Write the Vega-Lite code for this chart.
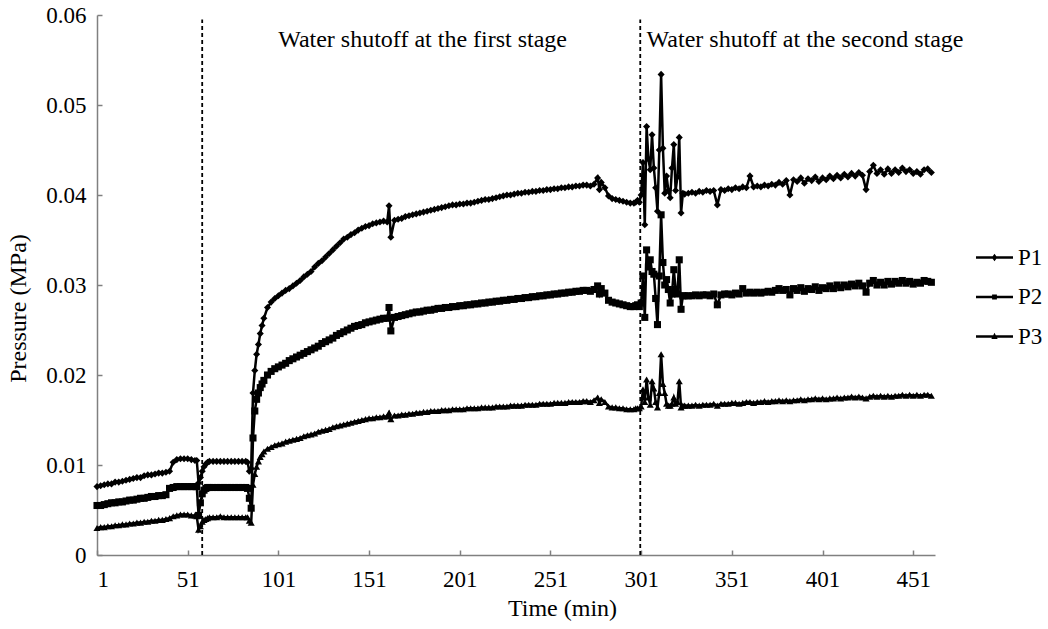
{
"$schema": "https://vega.github.io/schema/vega-lite/v6.json",
"width": 838,
"height": 540,
"autosize": {"type": "none"},
"padding": {"left": 97, "top": 15, "right": 113, "bottom": 74},
"background": "white",
"config": {"font": "Liberation Serif", "view": {"stroke": null}},
"datasets": {
"main": [
{"t":1,"P1":0.0076,"P2":0.0055,"P3":0.0030},
{"t":3,"P1":0.0077,"P2":0.0055,"P3":0.0031},
{"t":5,"P1":0.0078,"P2":0.0056,"P3":0.0031},
{"t":7,"P1":0.0079,"P2":0.0057,"P3":0.0032},
{"t":9,"P1":0.0079,"P2":0.0058,"P3":0.0032},
{"t":11,"P1":0.0081,"P2":0.0058,"P3":0.0033},
{"t":13,"P1":0.0081,"P2":0.0059,"P3":0.0033},
{"t":15,"P1":0.0082,"P2":0.0059,"P3":0.0034},
{"t":17,"P1":0.0083,"P2":0.0060,"P3":0.0034},
{"t":19,"P1":0.0084,"P2":0.0061,"P3":0.0035},
{"t":21,"P1":0.0085,"P2":0.0061,"P3":0.0035},
{"t":23,"P1":0.0086,"P2":0.0062,"P3":0.0036},
{"t":25,"P1":0.0086,"P2":0.0063,"P3":0.0036},
{"t":27,"P1":0.0088,"P2":0.0063,"P3":0.0037},
{"t":29,"P1":0.0089,"P2":0.0064,"P3":0.0037},
{"t":31,"P1":0.0089,"P2":0.0065,"P3":0.0038},
{"t":33,"P1":0.0090,"P2":0.0065,"P3":0.0038},
{"t":35,"P1":0.0091,"P2":0.0066,"P3":0.0039},
{"t":37,"P1":0.0091,"P2":0.0066,"P3":0.0039},
{"t":39,"P1":0.0092,"P2":0.0067,"P3":0.0040},
{"t":41,"P1":0.0093,"P2":0.0074,"P3":0.0041},
{"t":43,"P1":0.0103,"P2":0.0075,"P3":0.0043},
{"t":45,"P1":0.0106,"P2":0.0076,"P3":0.0044},
{"t":47,"P1":0.0107,"P2":0.0076,"P3":0.0045},
{"t":49,"P1":0.0107,"P2":0.0076,"P3":0.0045},
{"t":51,"P1":0.0107,"P2":0.0076,"P3":0.0045},
{"t":53,"P1":0.0106,"P2":0.0076,"P3":0.0044},
{"t":55,"P1":0.0105,"P2":0.0076,"P3":0.0044},
{"t":56,"P1":0.0105,"P2":0.0076,"P3":0.0043},
{"t":57,"P1":0.0080,"P2":0.0044,"P3":0.0028},
{"t":58,"P1":0.0086,"P2":0.0058,"P3":0.0032},
{"t":59,"P1":0.0093,"P2":0.0068,"P3":0.0037},
{"t":60,"P1":0.0098,"P2":0.0072,"P3":0.0039},
{"t":61,"P1":0.0101,"P2":0.0074,"P3":0.0040},
{"t":62,"P1":0.0103,"P2":0.0075,"P3":0.0041},
{"t":63,"P1":0.0104,"P2":0.0075,"P3":0.0042},
{"t":65,"P1":0.0104,"P2":0.0075,"P3":0.0042},
{"t":67,"P1":0.0104,"P2":0.0075,"P3":0.0042},
{"t":69,"P1":0.0104,"P2":0.0075,"P3":0.0043},
{"t":71,"P1":0.0104,"P2":0.0075,"P3":0.0042},
{"t":73,"P1":0.0104,"P2":0.0075,"P3":0.0042},
{"t":75,"P1":0.0104,"P2":0.0075,"P3":0.0042},
{"t":77,"P1":0.0104,"P2":0.0075,"P3":0.0042},
{"t":79,"P1":0.0104,"P2":0.0075,"P3":0.0042},
{"t":81,"P1":0.0104,"P2":0.0075,"P3":0.0042},
{"t":83,"P1":0.0104,"P2":0.0075,"P3":0.0042},
{"t":84,"P1":0.0103,"P2":0.0074,"P3":0.0042},
{"t":85,"P1":0.0093,"P2":0.0063,"P3":0.0038},
{"t":86,"P1":0.0096,"P2":0.0052,"P3":0.0036},
{"t":87,"P1":0.0180,"P2":0.0130,"P3":0.0078},
{"t":88,"P1":0.0205,"P2":0.0160,"P3":0.0090},
{"t":89,"P1":0.0223,"P2":0.0173,"P3":0.0098},
{"t":90,"P1":0.0234,"P2":0.0180,"P3":0.0104},
{"t":91,"P1":0.0246,"P2":0.0186,"P3":0.0109},
{"t":92,"P1":0.0255,"P2":0.0190,"P3":0.0112},
{"t":93,"P1":0.0263,"P2":0.0194,"P3":0.0115},
{"t":95,"P1":0.0275,"P2":0.0200,"P3":0.0118},
{"t":97,"P1":0.0281,"P2":0.0204,"P3":0.0120},
{"t":99,"P1":0.0285,"P2":0.0207,"P3":0.0122},
{"t":101,"P1":0.0288,"P2":0.0209,"P3":0.0123},
{"t":103,"P1":0.0291,"P2":0.0211,"P3":0.0124},
{"t":105,"P1":0.0294,"P2":0.0213,"P3":0.0126},
{"t":107,"P1":0.0296,"P2":0.0216,"P3":0.0127},
{"t":109,"P1":0.0299,"P2":0.0218,"P3":0.0128},
{"t":111,"P1":0.0302,"P2":0.0220,"P3":0.0129},
{"t":113,"P1":0.0305,"P2":0.0222,"P3":0.0130},
{"t":115,"P1":0.0309,"P2":0.0224,"P3":0.0132},
{"t":117,"P1":0.0312,"P2":0.0226,"P3":0.0133},
{"t":119,"P1":0.0315,"P2":0.0228,"P3":0.0134},
{"t":121,"P1":0.0320,"P2":0.0230,"P3":0.0135},
{"t":123,"P1":0.0324,"P2":0.0232,"P3":0.0137},
{"t":125,"P1":0.0327,"P2":0.0235,"P3":0.0138},
{"t":127,"P1":0.0331,"P2":0.0237,"P3":0.0139},
{"t":129,"P1":0.0335,"P2":0.0239,"P3":0.0140},
{"t":131,"P1":0.0339,"P2":0.0241,"P3":0.0142},
{"t":133,"P1":0.0343,"P2":0.0244,"P3":0.0143},
{"t":135,"P1":0.0347,"P2":0.0246,"P3":0.0144},
{"t":137,"P1":0.0351,"P2":0.0248,"P3":0.0145},
{"t":139,"P1":0.0353,"P2":0.0250,"P3":0.0146},
{"t":141,"P1":0.0356,"P2":0.0252,"P3":0.0147},
{"t":143,"P1":0.0358,"P2":0.0254,"P3":0.0148},
{"t":145,"P1":0.0361,"P2":0.0255,"P3":0.0149},
{"t":147,"P1":0.0363,"P2":0.0256,"P3":0.0150},
{"t":149,"P1":0.0365,"P2":0.0258,"P3":0.0151},
{"t":151,"P1":0.0366,"P2":0.0259,"P3":0.0152},
{"t":153,"P1":0.0368,"P2":0.0260,"P3":0.0152},
{"t":155,"P1":0.0369,"P2":0.0261,"P3":0.0153},
{"t":157,"P1":0.0370,"P2":0.0262,"P3":0.0153},
{"t":159,"P1":0.0371,"P2":0.0263,"P3":0.0154},
{"t":161,"P1":0.0370,"P2":0.0263,"P3":0.0154},
{"t":162,"P1":0.0388,"P2":0.0275,"P3":0.0158},
{"t":163,"P1":0.0353,"P2":0.0249,"P3":0.0151},
{"t":165,"P1":0.0372,"P2":0.0264,"P3":0.0155},
{"t":167,"P1":0.0373,"P2":0.0265,"P3":0.0155},
{"t":169,"P1":0.0374,"P2":0.0266,"P3":0.0156},
{"t":171,"P1":0.0376,"P2":0.0267,"P3":0.0156},
{"t":173,"P1":0.0377,"P2":0.0268,"P3":0.0157},
{"t":175,"P1":0.0378,"P2":0.0269,"P3":0.0157},
{"t":177,"P1":0.0379,"P2":0.0270,"P3":0.0158},
{"t":179,"P1":0.0380,"P2":0.0270,"P3":0.0158},
{"t":181,"P1":0.0381,"P2":0.0271,"P3":0.0159},
{"t":183,"P1":0.0382,"P2":0.0272,"P3":0.0159},
{"t":185,"P1":0.0383,"P2":0.0272,"P3":0.0160},
{"t":187,"P1":0.0384,"P2":0.0273,"P3":0.0160},
{"t":189,"P1":0.0385,"P2":0.0274,"P3":0.0160},
{"t":191,"P1":0.0386,"P2":0.0274,"P3":0.0161},
{"t":193,"P1":0.0387,"P2":0.0275,"P3":0.0161},
{"t":195,"P1":0.0388,"P2":0.0275,"P3":0.0161},
{"t":197,"P1":0.0389,"P2":0.0276,"P3":0.0162},
{"t":199,"P1":0.0389,"P2":0.0276,"P3":0.0162},
{"t":201,"P1":0.0390,"P2":0.0277,"P3":0.0162},
{"t":203,"P1":0.0390,"P2":0.0277,"P3":0.0162},
{"t":205,"P1":0.0391,"P2":0.0278,"P3":0.0163},
{"t":207,"P1":0.0391,"P2":0.0278,"P3":0.0163},
{"t":209,"P1":0.0392,"P2":0.0279,"P3":0.0163},
{"t":211,"P1":0.0393,"P2":0.0279,"P3":0.0163},
{"t":213,"P1":0.0394,"P2":0.0280,"P3":0.0164},
{"t":215,"P1":0.0395,"P2":0.0280,"P3":0.0164},
{"t":217,"P1":0.0395,"P2":0.0281,"P3":0.0164},
{"t":219,"P1":0.0396,"P2":0.0281,"P3":0.0164},
{"t":221,"P1":0.0397,"P2":0.0282,"P3":0.0165},
{"t":223,"P1":0.0398,"P2":0.0282,"P3":0.0165},
{"t":225,"P1":0.0399,"P2":0.0283,"P3":0.0165},
{"t":227,"P1":0.0400,"P2":0.0283,"P3":0.0165},
{"t":229,"P1":0.0400,"P2":0.0284,"P3":0.0166},
{"t":231,"P1":0.0401,"P2":0.0284,"P3":0.0166},
{"t":233,"P1":0.0402,"P2":0.0285,"P3":0.0166},
{"t":235,"P1":0.0402,"P2":0.0285,"P3":0.0166},
{"t":237,"P1":0.0403,"P2":0.0286,"P3":0.0167},
{"t":239,"P1":0.0403,"P2":0.0286,"P3":0.0167},
{"t":241,"P1":0.0404,"P2":0.0287,"P3":0.0167},
{"t":243,"P1":0.0404,"P2":0.0287,"P3":0.0167},
{"t":245,"P1":0.0405,"P2":0.0288,"P3":0.0168},
{"t":247,"P1":0.0405,"P2":0.0288,"P3":0.0168},
{"t":249,"P1":0.0406,"P2":0.0289,"P3":0.0168},
{"t":251,"P1":0.0406,"P2":0.0289,"P3":0.0168},
{"t":253,"P1":0.0407,"P2":0.0290,"P3":0.0169},
{"t":255,"P1":0.0407,"P2":0.0290,"P3":0.0169},
{"t":257,"P1":0.0408,"P2":0.0291,"P3":0.0169},
{"t":259,"P1":0.0408,"P2":0.0291,"P3":0.0169},
{"t":261,"P1":0.0409,"P2":0.0292,"P3":0.0170},
{"t":263,"P1":0.0409,"P2":0.0292,"P3":0.0170},
{"t":265,"P1":0.0410,"P2":0.0293,"P3":0.0170},
{"t":267,"P1":0.0410,"P2":0.0293,"P3":0.0170},
{"t":269,"P1":0.0411,"P2":0.0294,"P3":0.0171},
{"t":271,"P1":0.0411,"P2":0.0294,"P3":0.0171},
{"t":273,"P1":0.0410,"P2":0.0293,"P3":0.0170},
{"t":275,"P1":0.0412,"P2":0.0295,"P3":0.0172},
{"t":277,"P1":0.0419,"P2":0.0299,"P3":0.0175},
{"t":278,"P1":0.0406,"P2":0.0290,"P3":0.0169},
{"t":279,"P1":0.0414,"P2":0.0296,"P3":0.0173},
{"t":281,"P1":0.0408,"P2":0.0291,"P3":0.0170},
{"t":283,"P1":0.0399,"P2":0.0283,"P3":0.0165},
{"t":285,"P1":0.0396,"P2":0.0281,"P3":0.0164},
{"t":287,"P1":0.0395,"P2":0.0280,"P3":0.0164},
{"t":289,"P1":0.0394,"P2":0.0279,"P3":0.0163},
{"t":291,"P1":0.0393,"P2":0.0278,"P3":0.0163},
{"t":293,"P1":0.0392,"P2":0.0277,"P3":0.0162},
{"t":295,"P1":0.0391,"P2":0.0276,"P3":0.0162},
{"t":297,"P1":0.0391,"P2":0.0276,"P3":0.0162},
{"t":298,"P1":0.0392,"P2":0.0277,"P3":0.0163},
{"t":299,"P1":0.0394,"P2":0.0278,"P3":0.0163},
{"t":300,"P1":0.0392,"P2":0.0276,"P3":0.0163},
{"t":301,"P1":0.0400,"P2":0.0280,"P3":0.0165},
{"t":302,"P1":0.0436,"P2":0.0310,"P3":0.0184},
{"t":303,"P1":0.0367,"P2":0.0264,"P3":0.0170},
{"t":304,"P1":0.0476,"P2":0.0339,"P3":0.0195},
{"t":305,"P1":0.0440,"P2":0.0320,"P3":0.0175},
{"t":306,"P1":0.0428,"P2":0.0328,"P3":0.0167},
{"t":307,"P1":0.0467,"P2":0.0315,"P3":0.0193},
{"t":308,"P1":0.0430,"P2":0.0312,"P3":0.0185},
{"t":309,"P1":0.0408,"P2":0.0285,"P3":0.0170},
{"t":310,"P1":0.0382,"P2":0.0256,"P3":0.0164},
{"t":311,"P1":0.0450,"P2":0.0310,"P3":0.0180},
{"t":312,"P1":0.0534,"P2":0.0378,"P3":0.0223},
{"t":313,"P1":0.0452,"P2":0.0325,"P3":0.0190},
{"t":314,"P1":0.0402,"P2":0.0300,"P3":0.0180},
{"t":315,"P1":0.0421,"P2":0.0306,"P3":0.0168},
{"t":316,"P1":0.0405,"P2":0.0295,"P3":0.0166},
{"t":317,"P1":0.0397,"P2":0.0280,"P3":0.0166},
{"t":318,"P1":0.0430,"P2":0.0290,"P3":0.0168},
{"t":319,"P1":0.0456,"P2":0.0317,"P3":0.0175},
{"t":320,"P1":0.0405,"P2":0.0295,"P3":0.0168},
{"t":321,"P1":0.0420,"P2":0.0290,"P3":0.0170},
{"t":322,"P1":0.0464,"P2":0.0328,"P3":0.0193},
{"t":323,"P1":0.0380,"P2":0.0273,"P3":0.0164},
{"t":324,"P1":0.0402,"P2":0.0288,"P3":0.0166},
{"t":325,"P1":0.0401,"P2":0.0288,"P3":0.0166},
{"t":327,"P1":0.0402,"P2":0.0288,"P3":0.0166},
{"t":329,"P1":0.0403,"P2":0.0288,"P3":0.0166},
{"t":331,"P1":0.0402,"P2":0.0289,"P3":0.0167},
{"t":333,"P1":0.0404,"P2":0.0288,"P3":0.0166},
{"t":335,"P1":0.0403,"P2":0.0289,"P3":0.0167},
{"t":337,"P1":0.0405,"P2":0.0289,"P3":0.0167},
{"t":339,"P1":0.0404,"P2":0.0288,"P3":0.0167},
{"t":341,"P1":0.0405,"P2":0.0290,"P3":0.0168},
{"t":343,"P1":0.0389,"P2":0.0278,"P3":0.0166},
{"t":345,"P1":0.0406,"P2":0.0289,"P3":0.0168},
{"t":347,"P1":0.0405,"P2":0.0290,"P3":0.0168},
{"t":349,"P1":0.0407,"P2":0.0290,"P3":0.0168},
{"t":351,"P1":0.0406,"P2":0.0289,"P3":0.0169},
{"t":353,"P1":0.0408,"P2":0.0291,"P3":0.0169},
{"t":355,"P1":0.0407,"P2":0.0290,"P3":0.0168},
{"t":357,"P1":0.0409,"P2":0.0296,"P3":0.0169},
{"t":359,"P1":0.0408,"P2":0.0291,"P3":0.0170},
{"t":361,"P1":0.0421,"P2":0.0292,"P3":0.0170},
{"t":363,"P1":0.0409,"P2":0.0291,"P3":0.0169},
{"t":365,"P1":0.0410,"P2":0.0292,"P3":0.0170},
{"t":367,"P1":0.0409,"P2":0.0291,"P3":0.0170},
{"t":369,"P1":0.0411,"P2":0.0292,"P3":0.0171},
{"t":371,"P1":0.0410,"P2":0.0293,"P3":0.0170},
{"t":373,"P1":0.0412,"P2":0.0292,"P3":0.0171},
{"t":375,"P1":0.0411,"P2":0.0294,"P3":0.0171},
{"t":377,"P1":0.0414,"P2":0.0296,"P3":0.0172},
{"t":379,"P1":0.0412,"P2":0.0294,"P3":0.0171},
{"t":381,"P1":0.0416,"P2":0.0295,"P3":0.0172},
{"t":383,"P1":0.0400,"P2":0.0289,"P3":0.0171},
{"t":385,"P1":0.0417,"P2":0.0296,"P3":0.0172},
{"t":387,"P1":0.0415,"P2":0.0294,"P3":0.0172},
{"t":389,"P1":0.0419,"P2":0.0297,"P3":0.0173},
{"t":391,"P1":0.0413,"P2":0.0293,"P3":0.0172},
{"t":393,"P1":0.0418,"P2":0.0296,"P3":0.0173},
{"t":395,"P1":0.0416,"P2":0.0295,"P3":0.0173},
{"t":397,"P1":0.0420,"P2":0.0298,"P3":0.0174},
{"t":399,"P1":0.0415,"P2":0.0294,"P3":0.0173},
{"t":401,"P1":0.0419,"P2":0.0297,"P3":0.0174},
{"t":403,"P1":0.0417,"P2":0.0296,"P3":0.0173},
{"t":405,"P1":0.0421,"P2":0.0299,"P3":0.0174},
{"t":407,"P1":0.0418,"P2":0.0296,"P3":0.0174},
{"t":409,"P1":0.0422,"P2":0.0300,"P3":0.0175},
{"t":411,"P1":0.0419,"P2":0.0297,"P3":0.0174},
{"t":413,"P1":0.0423,"P2":0.0300,"P3":0.0175},
{"t":415,"P1":0.0420,"P2":0.0298,"P3":0.0175},
{"t":417,"P1":0.0424,"P2":0.0301,"P3":0.0176},
{"t":419,"P1":0.0421,"P2":0.0299,"P3":0.0175},
{"t":421,"P1":0.0425,"P2":0.0302,"P3":0.0176},
{"t":423,"P1":0.0422,"P2":0.0299,"P3":0.0175},
{"t":425,"P1":0.0406,"P2":0.0292,"P3":0.0174},
{"t":427,"P1":0.0426,"P2":0.0302,"P3":0.0176},
{"t":429,"P1":0.0433,"P2":0.0305,"P3":0.0177},
{"t":431,"P1":0.0424,"P2":0.0300,"P3":0.0176},
{"t":433,"P1":0.0428,"P2":0.0303,"P3":0.0177},
{"t":435,"P1":0.0423,"P2":0.0300,"P3":0.0176},
{"t":437,"P1":0.0429,"P2":0.0304,"P3":0.0177},
{"t":439,"P1":0.0424,"P2":0.0301,"P3":0.0176},
{"t":441,"P1":0.0428,"P2":0.0304,"P3":0.0177},
{"t":443,"P1":0.0425,"P2":0.0302,"P3":0.0177},
{"t":445,"P1":0.0430,"P2":0.0305,"P3":0.0178},
{"t":447,"P1":0.0426,"P2":0.0302,"P3":0.0177},
{"t":449,"P1":0.0428,"P2":0.0304,"P3":0.0178},
{"t":451,"P1":0.0424,"P2":0.0301,"P3":0.0177},
{"t":453,"P1":0.0426,"P2":0.0303,"P3":0.0178},
{"t":455,"P1":0.0423,"P2":0.0302,"P3":0.0177},
{"t":457,"P1":0.0428,"P2":0.0305,"P3":0.0178},
{"t":459,"P1":0.0429,"P2":0.0304,"P3":0.0178},
{"t":461,"P1":0.0425,"P2":0.0303,"P3":0.0177}
],
"vlines": [{"t": 59, "v1": 0, "v2": 0.0595}, {"t": 300.5, "v1": 0, "v2": 0.0595}],
"note1": [{"t": 180.5, "v": 0.0572, "text": "Water shutoff at the first stage"}],
"note2": [{"t": 304, "v": 0.0572, "text": "Water shutoff at the second stage"}]
},
"resolve": {"scale": {"shape": "independent"}},
"encoding": {
"x": {"field": "t", "type": "quantitative",
 "scale": {"domain": [1, 463], "nice": false, "zero": false},
 "axis": {"values": [1, 51, 101, 151, 201, 251, 301, 351, 401, 451], "title": "Time (min)", "grid": false,
  "domainColor": "#808080", "domainWidth": 1.5, "tickColor": "#808080", "tickWidth": 1.5, "tickSize": -5,
  "labelFont": "Liberation Serif", "labelFontSize": 23, "labelColor": "black", "labelPadding": 18,
  "titleFont": "Liberation Serif", "titleFontSize": 24, "titleFontWeight": "normal", "titleColor": "black",
  "titleX": 465, "titleY": 53, "titleBaseline": "middle", "titleAlign": "center"}}
},
"layer": [
{
"data": {"name": "vlines"},
"mark": {"type": "rule", "strokeDash": [4, 3], "strokeWidth": 1.8, "color": "black"},
"encoding": {
"y": {"field": "v1", "type": "quantitative"},
"y2": {"field": "v2"}
}
},
{
"data": {"name": "main"},
"transform": [{"fold": ["P1", "P2", "P3"], "as": ["series", "value"]}],
"mark": {"type": "line", "strokeWidth": 2.5, "color": "black", "clip": false},
"encoding": {
"y": {"field": "value", "type": "quantitative",
 "scale": {"domain": [0, 0.06], "nice": false},
 "axis": {"values": [0, 0.01, 0.02, 0.03, 0.04, 0.05, 0.06], "labelExpr": "datum.value == 0 ? '0' : format(datum.value, '.2f')",
  "title": "Pressure (MPa)", "grid": false,
  "domainColor": "#808080", "domainWidth": 1.5, "tickColor": "#808080", "tickWidth": 1.5, "tickSize": -5,
  "labelFont": "Liberation Serif", "labelFontSize": 23, "labelColor": "black", "labelPadding": 16,
  "titleFont": "Liberation Serif", "titleFontSize": 24, "titleFontWeight": "normal", "titleColor": "black",
  "titleX": -79, "titleY": 293, "titleBaseline": "middle", "titleAlign": "center", "titleAngle": -90}},
"detail": {"field": "series", "type": "nominal"}
}
},
{
"data": {"name": "main"},
"transform": [{"fold": ["P1", "P2", "P3"], "as": ["ser", "value"]}],
"mark": {"type": "point", "filled": true, "opacity": 1, "color": "black", "size": 50, "clip": false},
"encoding": {
"y": {"field": "value", "type": "quantitative"},
"shape": {"field": "ser", "type": "nominal",
 "scale": {"domain": ["P1", "P2", "P3"], "range": ["diamond", "square", "triangle-up"]}, "legend": null}
}
},
{
"data": {"name": "main"},
"transform": [{"filter": "datum.t == 461"}, {"fold": ["P1", "P2", "P3"], "as": ["leg", "value"]}],
"mark": {"type": "point", "filled": true, "opacity": 1, "fill": "black", "size": 0.3, "clip": false},
"encoding": {
"y": {"field": "value", "type": "quantitative"},
"shape": {"field": "leg", "type": "nominal",
 "scale": {"domain": ["P1", "P2", "P3"], "range": [
  "M-1,-0.065H1V0.065H-1Z M0,-0.2L0.15,0L0,0.2L-0.15,0Z",
  "M-1,-0.065H1V0.065H-1Z M-0.13,-0.13H0.13V0.13H-0.13Z",
  "M-1,-0.065H1V0.065H-1Z M0,-0.2L0.17,0.13H-0.17Z"]},
 "legend": {"title": null, "orient": "none", "legendX": 879, "legendY": 224, "padding": 0,
  "symbolSize": 1369, "symbolFillColor": "black", "symbolStrokeWidth": 0, "symbolOpacity": 1, "rowPadding": 8.5, "labelOffset": 5,
  "labelFont": "Liberation Serif", "labelFontSize": 23, "labelColor": "black"}}
}
},
{
"data": {"name": "note1"},
"mark": {"type": "text", "font": "Liberation Serif", "fontSize": 24, "color": "black", "baseline": "middle", "align": "center"},
"encoding": {
"y": {"field": "v", "type": "quantitative"},
"text": {"field": "text"}
}
},
{
"data": {"name": "note2"},
"mark": {"type": "text", "font": "Liberation Serif", "fontSize": 24, "color": "black", "baseline": "middle", "align": "left", "clip": false},
"encoding": {
"y": {"field": "v", "type": "quantitative"},
"text": {"field": "text"}
}
}
]
}
